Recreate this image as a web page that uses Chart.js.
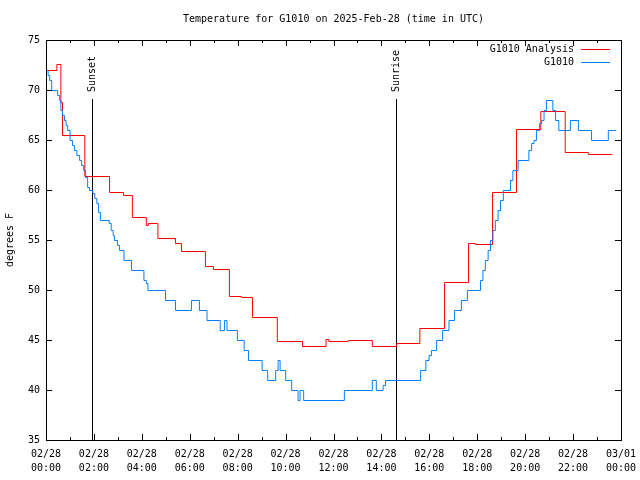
<!doctype html>
<html>
<head>
<meta charset="utf-8" />
<script src="https://cdn.jsdelivr.net/npm/chart.js@4.4.1/dist/chart.umd.min.js"></script>
<style>
  html, body { margin: 0; padding: 0; background: #fff; }
</style>
</head>
<body>
<canvas id="c" width="640" height="480"></canvas>
<script>
  // analysis (hourly-ish steps), time in UTC
  const analysisTimes = ['00:00','00:26','00:36','00:40','01:36','02:38','03:13','03:35','04:10','04:15',
    '04:39','05:23','05:38','06:38','06:58','07:38','08:08','08:36','09:38','10:41','11:40','11:47',
    '12:36','13:36','14:37','15:35','16:37','17:37','17:54','18:37','19:37','20:38','21:39','22:37','23:37'];
  const analysisTemps = [72.0,72.6,68.8,65.5,61.4,59.8,59.5,57.3,56.5,56.7,
    55.2,54.7,53.9,52.4,52.1,49.4,49.3,47.3,44.9,44.4,45.1,44.9,
    45.0,44.4,44.7,46.2,50.8,54.7,54.6,59.8,66.1,67.9,63.8,63.6,63.6];

  // station observations
  const obsTimes = ['00:00','00:04','00:08','00:13','00:28','00:33','00:36','00:40','00:45','00:49',
    '00:53','00:59','01:05','01:10','01:16','01:23','01:28','01:33','01:38','01:43','01:48','01:56',
    '02:01','02:06','02:10','02:15','02:37','02:42','02:47','02:50','02:58','03:03','03:14','03:33',
    '04:04','04:10','04:14','04:58','05:23','06:03','06:23','06:42','07:15','07:26','07:32','07:58',
    '08:15','08:26','09:00','09:14','09:34','09:40','09:45','09:59','10:14','10:30','10:35','10:44',
    '12:26','13:36','13:46','14:03','14:09','15:37','15:50','15:58','16:04','16:17','16:32','16:48',
    '17:02','17:19','17:34','18:07','18:13','18:19','18:26','18:32','18:38','18:44','18:51','18:57',
    '19:04','19:22','19:28','19:41','20:08','20:15','20:21','20:27','20:35','20:40','20:46','20:52',
    '21:08','21:15','21:23','21:52','22:12','22:45','23:27','23:47'];
  const obsTemps = [72,71.5,71,70,69.5,69,68,67.5,67,66.5,
    66,65,64.5,64,63.5,63,62.5,62,61.3,60.3,60,59.7,
    59.2,58.7,57.8,57,56.7,56,55.5,55,54.5,54,53,52,
    51,50.7,50,49,48,49,48,47,46,47,46,45,
    44,43,42,41,42,43,42,41,40,39,40,39,
    40,41,40,40.5,41,42,43,43.5,44,45,46,47,
    48,49,50,51,52,53,54,55,56,57,58,59,
    60,61,62,63,64,64.7,65,66,66.7,67,68,69,
    68,67,66,67,66,65,66,66];

  const yTicks = [35, 40, 45, 50, 55, 60, 65, 70, 75];
  const xTickHours = [0, 2, 4, 6, 8, 10, 12, 14, 16, 18, 20, 22, 24];
  const sunEvents = [['Sunset', '01:55'], ['Sunrise', '14:37']];

  const FONT = '"DejaVu Sans Mono", "Liberation Mono", monospace';

  function toHours(t) {
    const [h, m] = t.split(':').map(Number);
    return h + m / 60;
  }
  function points(times, temps) {
    return times.map((t, i) => ({ x: toHours(t), y: temps[i] }));
  }
  function pad2(n) { return String(n).padStart(2, '0'); }

  const frame = {
    id: 'frame',
    beforeDatasetsDraw(chart) {
      const { ctx, chartArea: a, scales: { x } } = chart;
      ctx.save();
      ctx.strokeStyle = '#000';
      ctx.lineWidth = 1;
      ctx.beginPath();
      for (const [, t] of sunEvents) {
        const px = Math.round(x.getPixelForValue(toHours(t))) + 0.5;
        ctx.moveTo(px, 99);
        ctx.lineTo(px, a.bottom);
      }
      ctx.stroke();
      ctx.restore();
      // keep 1px data lines crisp
      ctx.save();
      ctx.translate(0.5, 0.5);
    },
    afterDatasetsDraw(chart) {
      chart.ctx.restore();
    },
    afterDraw(chart) {
      const { ctx, chartArea: a, scales: { x, y } } = chart;
      ctx.save();
      ctx.strokeStyle = '#000';
      ctx.lineWidth = 1;
      ctx.beginPath();
      for (let h = 0; h <= 24; h++) {
        const px = Math.round(x.getPixelForValue(h)) + 0.5;
        const len = h % 2 ? 3 : 6;
        ctx.moveTo(px, a.bottom); ctx.lineTo(px, a.bottom - len);
        ctx.moveTo(px, a.top); ctx.lineTo(px, a.top + len);
      }
      for (const v of yTicks) {
        const py = Math.round(y.getPixelForValue(v)) + 0.5;
        ctx.moveTo(a.left, py); ctx.lineTo(a.left + 6, py);
        ctx.moveTo(a.right, py); ctx.lineTo(a.right - 6, py);
      }
      ctx.stroke();
      ctx.strokeRect(a.left + 0.5, a.top + 0.5, a.width, a.height);

      ctx.fillStyle = '#000';
      ctx.font = '10px ' + FONT;
      ctx.textBaseline = 'middle';

      ctx.textAlign = 'center';
      ctx.fillText('Temperature for G1010 on 2025-Feb-28 (time in UTC)', (a.left + a.right) / 2, 19);

      ctx.save();
      ctx.translate(10, (a.top + a.bottom) / 2);
      ctx.rotate(-Math.PI / 2);
      ctx.fillText('degrees F', 0, 0);
      ctx.restore();

      for (const [label, t] of sunEvents) {
        const px = Math.round(x.getPixelForValue(toHours(t)));
        ctx.save();
        ctx.translate(px + 0.5, 92);
        ctx.rotate(-Math.PI / 2);
        ctx.textAlign = 'left';
        ctx.fillText(label, 0, 0);
        ctx.restore();
      }

      chart.data.datasets.forEach((ds, i) => {
        const ly = 49 + i * 13;
        ctx.textAlign = 'right';
        ctx.fillText(ds.label, 574, ly);
        ctx.strokeStyle = ds.borderColor;
        ctx.beginPath();
        ctx.moveTo(581, ly + 0.5);
        ctx.lineTo(610, ly + 0.5);
        ctx.stroke();
      });
      ctx.restore();
    }
  };

  new Chart(document.getElementById('c'), {
    type: 'line',
    data: {
      datasets: [
        {
          label: 'G1010 Analysis',
          data: points(analysisTimes, analysisTemps),
          borderColor: '#ff0000',
          borderWidth: 1,
          pointRadius: 0,
          stepped: true,
          order: 1
        },
        {
          label: 'G1010',
          data: points(obsTimes, obsTemps),
          borderColor: '#0080ff',
          borderWidth: 1,
          pointRadius: 0,
          stepped: true,
          order: 0
        }
      ]
    },
    options: {
      responsive: false,
      animation: false,
      layout: { padding: { top: 40, right: 19, left: 0, bottom: 0 } },
      plugins: { legend: { display: false }, tooltip: { enabled: false } },
      scales: {
        x: {
          type: 'linear',
          min: 0,
          max: 24,
          afterFit(s) { s.height = 40; s.paddingLeft = 0; s.paddingRight = 0; },
          afterBuildTicks(s) { s.ticks = xTickHours.map(v => ({ value: v })); },
          grid: { display: false, drawTicks: false },
          border: { display: false },
          ticks: {
            autoSkip: false,
            maxRotation: 0,
            padding: 7,
            color: '#000',
            font: { family: FONT, size: 10, lineHeight: 1.4 },
            callback: v => [v === 24 ? '03/01' : '02/28', pad2(v % 24) + ':00']
          }
        },
        y: {
          min: 35,
          max: 75,
          afterFit(s) { s.width = 46; },
          afterBuildTicks(s) { s.ticks = yTicks.map(v => ({ value: v })); },
          grid: { display: false, drawTicks: false },
          border: { display: false },
          ticks: {
            padding: 6,
            color: '#000',
            font: { family: FONT, size: 10 }
          }
        }
      }
    },
    plugins: [frame]
  });
</script>
</body>
</html>
